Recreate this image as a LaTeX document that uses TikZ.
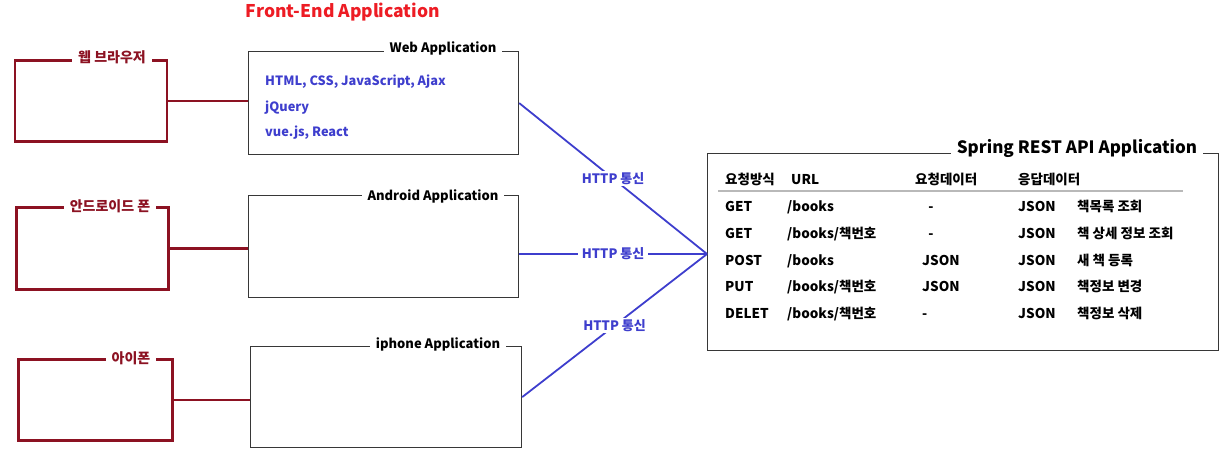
\documentclass[tikz,border=0pt]{standalone}
\usepackage{fontspec}
\setmainfont{Noto Sans CJK KR}
\definecolor{frontred}{RGB}{237,28,36}
\definecolor{devred}{RGB}{140,18,34}
\definecolor{httpblue}{RGB}{62,62,205}
\definecolor{boxgray}{RGB}{55,55,55}
\begin{document}
\begin{tikzpicture}[x=1pt,y=-1pt,font=\bfseries\fontsize{13}{15}\selectfont,
  devbox/.style={draw=devred,line width=2.6pt,anchor=north west,inner sep=0pt},
  devlabel/.style={fill=white,text=devred,inner xsep=6pt,inner ysep=1pt,font=\bfseries\fontsize{14}{16}\selectfont},
  appbox/.style={draw=boxgray,line width=1.2pt,anchor=north west,inner sep=0pt},
  applabel/.style={fill=white,inner xsep=6pt,inner ysep=1pt},
  devline/.style={draw=devred,line width=2.6pt},
  httpline/.style={draw=httpblue,line width=1.8pt},
  httplabel/.style={fill=white,text=httpblue,inner xsep=4pt,inner ysep=1pt},
  techtext/.style={text=httpblue,anchor=base west,inner sep=0pt,font=\bfseries\fontsize{12.8}{15}\selectfont},
  cell/.style={anchor=base west,inner sep=0pt,font=\bfseries\fontsize{13.5}{16}\selectfont}]
\useasboundingbox (0,0) rectangle (1228,463);
\newcommand\device[6]{
\node[devbox,minimum width=#3,minimum height=#4] (#1) at (#2) {};
\node[devlabel] (#1-label) at (#5) {#6};
}
\newcommand\app[6]{
\node[appbox,minimum width=#3,minimum height=#4] (#1) at (#2) {};
\node[applabel] (#1-label) at (#5) {#6};
}
\newcommand\apirow[7]{
\node[cell] (#1-method) at (725,#2) {#3};
\node[cell] (#1-url) at (787,#2) {#4};
\node[cell] (#1-req) at (922,#2) {#5};
\node[cell] (#1-resp) at (1018,#2) {#6};
\node[cell] (#1-desc) at (1077,#2) {#7};
}
\node[text=frontred,font=\bfseries\fontsize{17.5}{20}\selectfont] (fronttitle) at (343,12) {Front-End Application};
% clients
\device{browser}{13.5,59}{152}{81}{112,57}{웹 브라우저}
\device{android}{15,206}{152}{82}{110,206}{안드로이드 폰}
\device{iphone}{17,358}{154}{81}{131,358}{아이폰}
% front-end apps
\app{webapp}{248,51}{270}{103}{443,48}{Web Application}
\app{androidapp}{248,195}{270}{102}{433,196}{Android Application}
\app{iphoneapp}{250,346}{271}{101}{438,344}{iphone Application}
\node[techtext] (tech1) at (265,85) {HTML, CSS, JavaScript, Ajax};
\node[techtext] (tech2) at (265,111) {jQuery};
\node[techtext] (tech3) at (265,136) {vue.js, React};
\path[devline] (browser.east) -- (browser.east -| webapp.west);
\path[devline] (android.east) -- (android.east -| androidapp.west);
\path[devline] (iphone.east) -- (iphone.east -| iphoneapp.west);
% server
\node[appbox,minimum width=511,minimum height=197] (spring) at (707,153) {};
\node[applabel,font=\bfseries\fontsize{17}{19}\selectfont] (spring-label) at (1077,148.5) {Spring REST API Application};
\coordinate (hub) at (707,254);
\path[httpline] (webapp.east) -- node[httplabel] (http1) {HTTP 통신} (hub);
\path[httpline] (hub -| androidapp.east) -- node[httplabel] (http2) {HTTP 통신} (hub);
\path[httpline] (iphoneapp.east) -- node[httplabel] (http3) {HTTP 통신} (hub);
% table
\node[cell] (head1) at (725,184) {요청방식};
\node[cell] (head2) at (791,184) {URL};
\node[cell] (head3) at (915,184) {요청데이터};
\node[cell] (head4) at (1018,184) {응답데이터};
\draw[gray!55,line width=1.3pt] (718,191) -- (1183,191);
\apirow{r1}{211}{GET}{/books}{\ \ -}{JSON}{책목록 조회}
\apirow{r2}{238}{GET}{/books/책번호}{\ \ -}{JSON}{책 상세 정보 조회}
\apirow{r3}{265}{POST}{/books}{JSON}{JSON}{새 책 등록}
\apirow{r4}{291.5}{PUT}{/books/책번호}{JSON}{JSON}{책정보 변경}
\apirow{r5}{318.5}{DELET}{/books/책번호}{-}{JSON}{책정보 삭제}
\end{tikzpicture}
\end{document}
